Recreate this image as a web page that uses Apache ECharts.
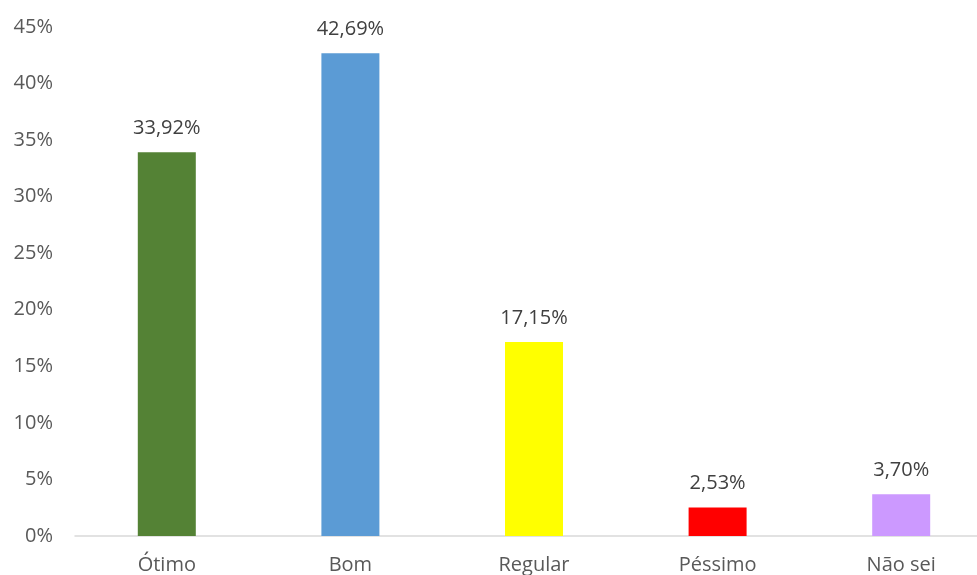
<!DOCTYPE html>
<html><head><meta charset="utf-8">
<style>html,body{margin:0;padding:0;background:#fff}#c{width:977px;height:575px}</style>
<script src="https://cdn.jsdelivr.net/npm/echarts@6/dist/echarts.min.js"></script>
</head><body><div id="c"></div>
<script>
const categories = ['Ótimo', 'Bom', 'Regular', 'Péssimo', 'Não sei'];
const values = [33.92, 42.69, 17.15, 2.53, 3.70];
const colors = ['#548235', '#5B9BD5', '#FFFF00', '#FF0000', '#CC99FF'];
const yTicks = [0, 5, 10, 15, 20, 25, 30, 35, 40, 45];

const chart = echarts.init(document.getElementById('c'));
const fontFamily = '"Open Sans", "Noto Sans", sans-serif';
chart.setOption({
  animation: false,
  grid: { left: 75, top: 27, width: 918, height: 509, outerBoundsMode: 'none', containLabel: false },
  xAxis: {
    type: 'category', data: categories,
    axisLine: { lineStyle: { color: '#D9D9D9', width: 1.5 } },
    axisTick: { show: false },
    axisLabel: { color: '#595959', fontSize: 20, fontFamily, margin: 19 }
  },
  yAxis: {
    type: 'value', min: yTicks[0], max: yTicks[yTicks.length - 1], interval: 5,
    splitLine: { show: false },
    axisLine: { show: false }, axisTick: { show: false },
    axisLabel: { color: '#595959', fontSize: 20, fontFamily, margin: 22,
      formatter: v => v + '%' }
  },
  series: [{
    type: 'bar', barWidth: 58,
    data: values.map((v, i) => ({ value: v, itemStyle: { color: colors[i] } })),
    label: { show: true, position: 'top', distance: 14, color: '#404040', fontSize: 20, fontFamily,
      formatter: p => p.value.toFixed(2).replace('.', ',') + '%' }
  }]
});
</script></body></html>
